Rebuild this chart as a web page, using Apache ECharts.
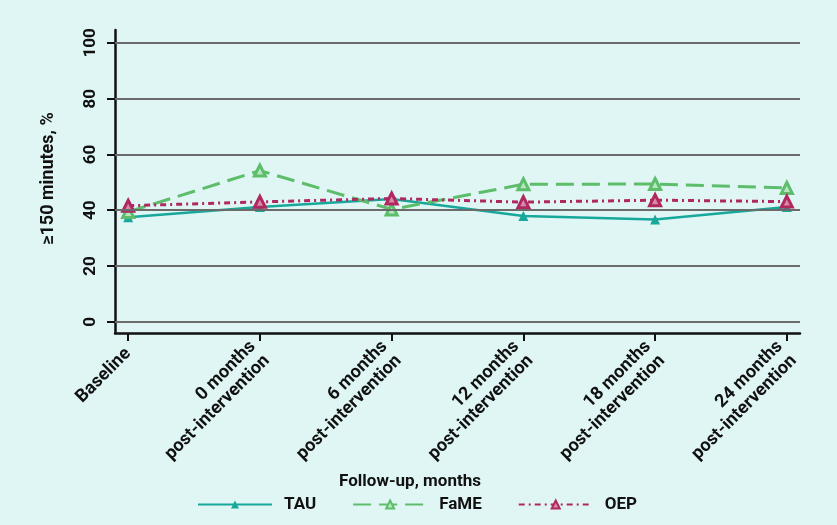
<!DOCTYPE html>
<html><head><meta charset="utf-8">
<script src="https://cdn.jsdelivr.net/npm/echarts@6/dist/echarts.min.js"></script>
<style>html,body{margin:0;padding:0;background:#dff6f4}#c{width:837px;height:525px}</style>
</head><body><div id="c"></div>
<script>
const categories = ['Baseline', '0 months\npost-intervention', '6 months\npost-intervention', '12 months\npost-intervention', '18 months\npost-intervention', '24 months\npost-intervention'];
const tau  = [37.5, 41.2, 44.0, 37.9, 36.7, 41.2];
const fame = [39.4, 54.2, 40.3, 49.3, 49.4, 48.0];
const oep  = [41.6, 43.0, 44.2, 42.9, 43.6, 43.1];
const yTicks = [0, 20, 40, 60, 80, 100];
const xTicks = [0, 1, 2, 3, 4, 5];

const font = 'Roboto';
const pts = arr => arr.map((v, i) => [i, v]);
const chart = echarts.init(document.getElementById('c'));
chart.setOption({
  backgroundColor: '#dff6f4',
  animation: false,
  grid: { left: 115, right: 37, top: 30, bottom: 192 },
  title: { text: 'Follow-up, months', left: 410, top: 473, textAlign: 'center', padding: 0,
    textStyle: { fontFamily: font, fontWeight: 'bold', fontSize: 17, color: '#111' } },
  legend: {
    data: ['TAU', 'FaME', 'OEP'], left: 197, top: 496, padding: 0, itemWidth: 74, itemHeight: 10, itemGap: 36,
    textStyle: { fontFamily: font, fontWeight: 'bold', fontSize: 17, color: '#111', padding: [0, 0, 0, 7] }
  },
  xAxis: {
    type: 'value', min: -0.1, max: 5.1,
    axisLine: { show: true, onZero: false, lineStyle: { color: '#111', width: 2.5 } },
    axisTick: { show: true, length: 8, customValues: xTicks, lineStyle: { color: '#111', width: 2 } },
    axisLabel: { customValues: xTicks, rotate: 45, margin: 18, lineHeight: 20,
      formatter: v => categories[Math.round(v)],
      fontFamily: font, fontWeight: 'bold', fontSize: 18, color: '#111' },
    splitLine: { show: false }
  },
  yAxis: {
    type: 'value', min: -4, max: 104.6,
    name: '≥150 minutes, %', nameLocation: 'middle', nameGap: 58, nameRotate: 90,
    nameTextStyle: { fontFamily: font, fontWeight: 'bold', fontSize: 18, color: '#111', padding: [0, 0, 0, 6] },
    axisLine: { show: true, onZero: false, lineStyle: { color: '#111', width: 2.5 } },
    axisTick: { show: true, length: 8, customValues: yTicks, lineStyle: { color: '#111', width: 2 } },
    axisLabel: { customValues: yTicks, rotate: 90, margin: 16,
      fontFamily: font, fontWeight: 'bold', fontSize: 17, color: '#111' },
    splitLine: { show: false }
  },
  series: [
    { name: 'gridlines', type: 'line', data: [], z: 1, silent: true,
      markLine: { silent: true, symbol: 'none', label: { show: false },
        lineStyle: { color: '#6b6b6b', width: 2, type: 'solid' },
        data: yTicks.map(v => ({ yAxis: v })) } },
    { name: 'TAU', type: 'line', data: pts(tau), z: 3,
      symbol: 'triangle', symbolSize: 10,
      lineStyle: { color: '#17a89b', width: 2.5 },
      itemStyle: { color: '#17a89b' } },
    { name: 'FaME', type: 'line', data: pts(fame), z: 3,
      symbol: 'triangle', symbolSize: 11,
      lineStyle: { color: '#5dbd6b', width: 3, type: [18, 8] },
      itemStyle: { color: '#b9e6c0', borderColor: '#5dbd6b', borderWidth: 3 } },
    { name: 'OEP', type: 'line', data: pts(oep), z: 3,
      symbol: 'triangle', symbolSize: 11,
      lineStyle: { color: '#b02860', width: 3, type: [6, 4, 2, 4] },
      itemStyle: { color: '#d98aa8', borderColor: '#b02860', borderWidth: 3 } }
  ]
});
</script></body></html>
